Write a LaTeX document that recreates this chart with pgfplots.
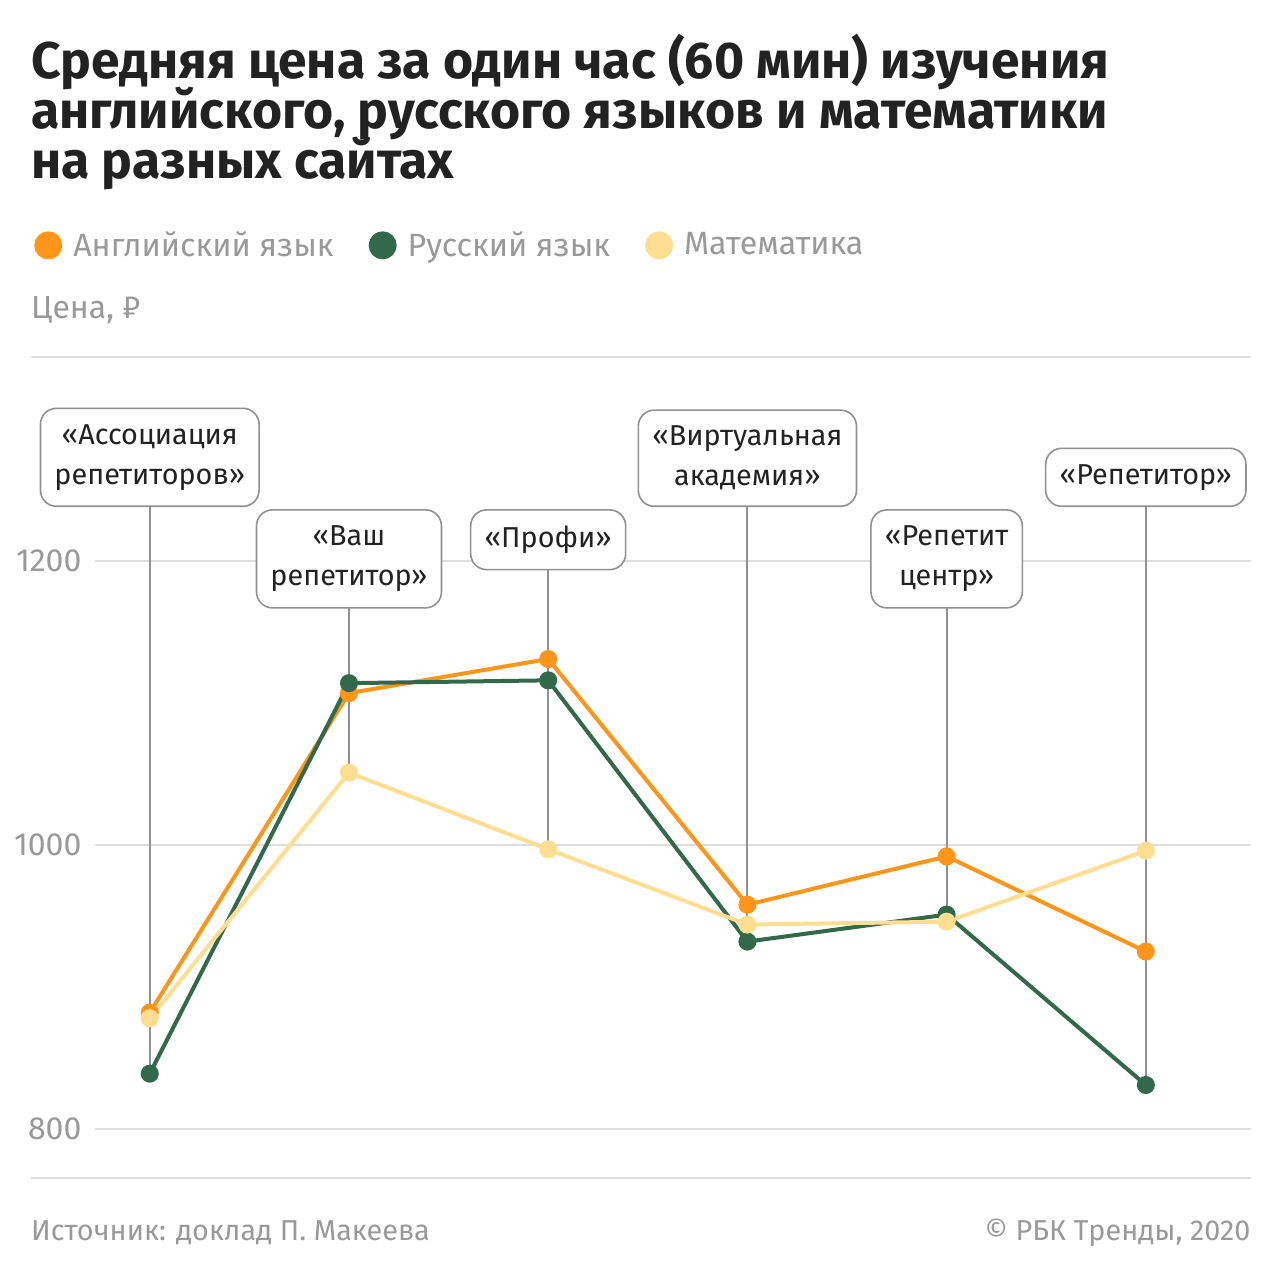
\documentclass[border=0pt]{standalone}
\usepackage{fontspec}
\setmainfont{Fira Sans}
\usepackage{pgfplots}
\usepackage{pgfplotstable}
\pgfplotsset{compat=1.18}

\definecolor{eng}{RGB}{255,150,25}
\definecolor{rus}{RGB}{50,105,75}
\definecolor{mat}{RGB}{255,222,145}
\definecolor{txtgray}{RGB}{153,153,153}
\definecolor{gridgray}{RGB}{222,222,222}
\definecolor{linegray}{RGB}{145,145,145}
\definecolor{titlec}{RGB}{34,34,34}

\tikzset{sitebox/.style={draw=linegray, line width=0.8pt, rounded corners=8pt, fill=white,
    text=titlec, align=center, inner xsep=7pt, inner ysep=8pt,
    font=\fontsize{14.4}{20}\selectfont}}

% average price per hour, by site (x = site index)
\pgfplotstableread{
x eng rus mat
0 882 839 878
1 1107 1114 1051
2 1131 1116 997
3 958 932 944
4 992 951 946
5 925 831 996
}\prices

\begin{document}
\begin{tikzpicture}
\path[fill=white] (0,0) rectangle (640pt,-641pt);

\begin{scope}[every node/.style={anchor=base west, inner sep=0pt, text=titlec,
    font=\fontsize{25.8}{26}\selectfont\bfseries}]
\node at (15pt,-39pt) {Средняя цена за один час (60 мин) изучения};
\node at (15pt,-64pt) {английского, русского языков и математики};
\node at (15pt,-89pt) {на разных сайтах};
\end{scope}

\node[anchor=base west, inner sep=0pt, text=txtgray, font=\fontsize{16}{16}\selectfont]
  at (15pt,-159pt) {Цена, ₽};

\node[anchor=base west, inner sep=0pt, text=txtgray, font=\fontsize{14.4}{15}\selectfont]
  at (15pt,-620pt) {Источник: доклад П. Макеева};
\node[anchor=base east, inner sep=0pt, text=txtgray, font=\fontsize{14.4}{15}\selectfont]
  at (625pt,-620pt) {© РБК Тренды, 2020};

\begin{axis}[
  at={(15pt,-589pt)}, anchor=south west,
  scale only axis, width=610pt, height=410.5pt,
  xmin=-0.597, xmax=5.527, ymin=765.5, ymax=1343.7,
  clip=false,
  separate axis lines,
  x axis line style={draw=gridgray, line width=0.75pt},
  y axis line style={draw=none},
  xtick=\empty,
  ytick={800,1000,1200},
  ymajorgrids,
  grid style={draw=gridgray, line width=0.75pt},
  major tick length=0pt,
  /pgf/number format/assume math mode=true,
  /pgf/number format/1000 sep={},
  yticklabel style={anchor=east, xshift=32.5pt, fill=white, inner xsep=7pt,
    text=txtgray, font=\fontsize{16}{16}\selectfont},
  legend columns=3,
  legend style={at={(0.0025,1.136)}, anchor=west, draw=none, fill=none,
    inner sep=0pt, text=txtgray, font=\fontsize{16.1}{16}\selectfont,
    nodes={inner sep=0pt},
    /tikz/every odd column/.append style={column sep=5.5pt},
    /tikz/every even column/.append style={column sep=17.5pt}},
  legend image code/.code={\fill[#1] (6pt,0pt) circle (6pt);},
  every axis plot/.append style={line width=2pt, mark=*, mark size=3.5pt},
]
% connector lines from the labels down to the lowest point
\draw[linegray, line width=1pt] (axis cs:0,839) -- (axis cs:0,1238);
\draw[linegray, line width=1pt] (axis cs:1,1051) -- (axis cs:1,1237);
\draw[linegray, line width=1pt] (axis cs:2,997) -- (axis cs:2,1237);
\draw[linegray, line width=1pt] (axis cs:3,932) -- (axis cs:3,1238);
\draw[linegray, line width=1pt] (axis cs:4,946) -- (axis cs:4,1237);
\draw[linegray, line width=1pt] (axis cs:5,831) -- (axis cs:5,1238);

\addplot[color=eng] table[x=x, y=eng] {\prices};
\addlegendentry{Английский язык}
\addplot[color=rus] table[x=x, y=rus] {\prices};
\addlegendentry{Русский язык}
\addplot[color=mat] table[x=x, y=mat] {\prices};
\addlegendentry{Математика}

\node[sitebox, anchor=south] at (axis cs:0,1238) {«Ассоциация\\репетиторов»};
\node[sitebox, anchor=north] at (axis cs:1,1236.6) {«Ваш\\репетитор»};
\node[sitebox, anchor=north] at (axis cs:2,1236.6) {«Профи»};
\node[sitebox, anchor=south] at (axis cs:3,1238) {«Виртуальная\\академия»};
\node[sitebox, anchor=north] at (axis cs:4,1236.6) {«Репетит\\центр»};
\node[sitebox, anchor=south] at (axis cs:5,1238) {«Репетитор»};
\end{axis}
\end{tikzpicture}
\end{document}
